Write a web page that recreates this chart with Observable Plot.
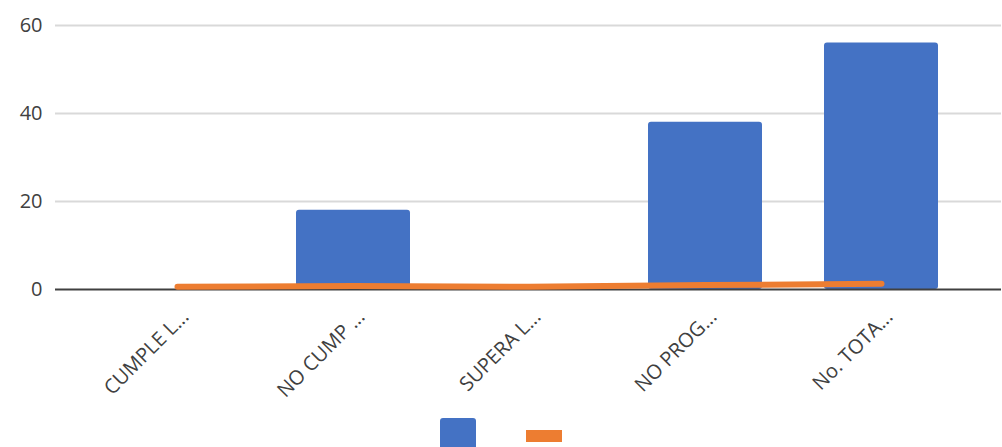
<!DOCTYPE html>
<html>
<head>
<meta charset="utf-8">
<script src="https://cdn.jsdelivr.net/npm/d3@7"></script>
<script src="https://cdn.jsdelivr.net/npm/@observablehq/plot@0.6"></script>
<style>
  html, body { margin: 0; padding: 0; background: #fff; overflow: hidden; }
  #chart svg { display: block; }
  #legend { display: flex; justify-content: center; align-items: center; gap: 50px; padding-top: 8px; }
  .sw-bar { width: 36px; height: 36px; background: #4472C4; border-radius: 3px; }
  .sw-line { width: 36px; height: 12px; background: #ED7D31; }
</style>
</head>
<body>
<div id="chart"></div>
<div id="legend"><div class="sw-bar"></div><div class="sw-line"></div></div>
<script>
const categories = ["CUMPLE L...", "NO CUMP ...", "SUPERA L...", "NO PROG...", "No. TOTA..."];
const barValues = [0, 18, 0, 38, 56];
const lineValues = [0.6, 0.8, 0.6, 1.0, 1.3];
const yTicks = [0, 20, 40, 60];

const data = categories.map((c, i) => ({cat: c, bar: barValues[i], line: lineValues[i]}));

const chart = Plot.plot({
  width: 1002,
  height: 410,
  marginTop: 25,
  marginBottom: 121,
  marginLeft: 58,
  marginRight: 1,
  style: {fontFamily: "'Open Sans', sans-serif", background: "#fff"},
  x: {domain: categories, padding: 0.35, label: null},
  y: {domain: [0, 60], label: null},
  marks: [
    Plot.ruleY(yTicks.filter(d => d > 0), {stroke: "#d9d9d9", strokeWidth: 2, insetLeft: -3}),
    Plot.axisY({ticks: yTicks, tickSize: 0, tickPadding: 16, fontSize: 20, color: "#404040", label: null}),
    Plot.axisX({tickSize: 0, tickPadding: 24, dx: 8, tickRotate: -45, fontSize: 20, color: "#404040", label: null}),
    Plot.barY(data, {x: "cat", y: "bar", fill: "#4472C4", rx: 3}),
    Plot.ruleY([0], {stroke: "#404040", strokeWidth: 2, insetLeft: -3}),
    Plot.lineY(data, {x: "cat", y: "line", stroke: "#ED7D31", strokeWidth: 6, curve: "linear"})
  ]
});
document.getElementById("chart").appendChild(chart);
</script>
</body>
</html>
